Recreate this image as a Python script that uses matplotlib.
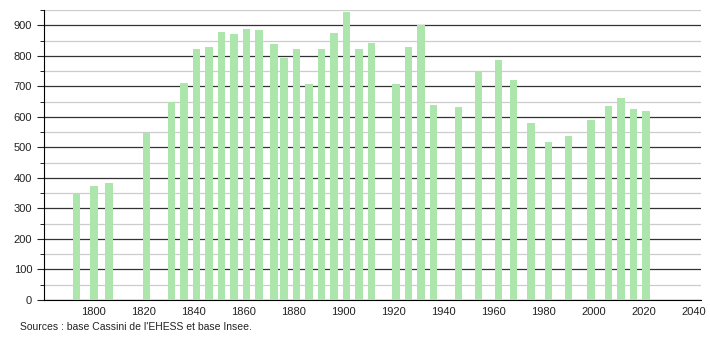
import matplotlib
matplotlib.use("Agg")
import matplotlib.pyplot as plt
from matplotlib.ticker import MultipleLocator

# Recensements de la population
years = [1793, 1800, 1806, 1821, 1831, 1836, 1841, 1846, 1851, 1856, 1861, 1866,
         1872, 1876, 1881, 1886, 1891, 1896, 1901, 1906, 1911, 1921, 1926, 1931,
         1936, 1946, 1954, 1962, 1968, 1975, 1982, 1990, 1999, 2006, 2011, 2016, 2021]
population = [350, 373, 384, 548, 648, 711, 821, 830, 877, 870, 889, 886,
              840, 793, 823, 707, 823, 874, 944, 823, 843, 707, 830, 900,
              640, 632, 748, 786, 721, 581, 519, 537, 591, 637, 663, 627, 618]
x_ticks = [1800, 1820, 1840, 1860, 1880, 1900, 1920, 1940, 1960, 1980, 2000, 2020, 2040]
source_text = "Sources : base Cassini de l'EHESS et base Insee."

plt.rcParams['font.family'] = ['Liberation Sans', 'DejaVu Sans']

fig = plt.figure(figsize=(7.1, 3.4), dpi=100)
ax = fig.add_axes([44 / 710, 40 / 340, 657 / 710, 290 / 340])

ax.bar(years, population, width=3.0, color='#ade6ad', zorder=3)

ax.set_xlim(1780, 2043)
ax.set_ylim(0, 950)
ax.set_xticks(x_ticks)
ax.yaxis.set_major_locator(MultipleLocator(100))
ax.yaxis.set_minor_locator(MultipleLocator(50))

ax.grid(axis='y', which='major', color='#333333', linewidth=0.9, zorder=1)
ax.grid(axis='y', which='minor', color='#cccccc', linewidth=0.9, zorder=1)

for side in ['top', 'right']:
    ax.spines[side].set_visible(False)
ax.spines['left'].set_color('black')
ax.spines['bottom'].set_color('black')

ax.tick_params(axis='y', which='major', length=5, labelsize=8, colors='#222222')
ax.tick_params(axis='y', which='minor', length=3)
ax.tick_params(axis='x', length=0, labelsize=8, colors='#222222', pad=5)

fig.text(20 / 710, 1 - 327 / 340, source_text, fontsize=7.5, color='#222222',
         va='center', ha='left')

fig.savefig("out.png", dpi=100)
